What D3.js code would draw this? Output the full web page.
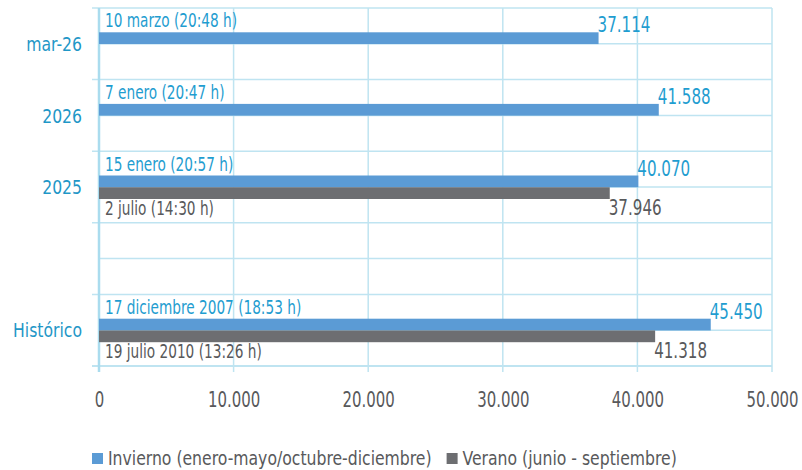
<!DOCTYPE html>
<html>
<head>
  <meta charset="utf-8">
  <title>Demanda máxima</title>
  <script src="https://cdn.jsdelivr.net/npm/d3@7/dist/d3.min.js"></script>
  <style>
    body { margin: 0; background: #fff; }
    svg text { font-family: 'Liberation Sans Narrow', 'DejaVu Sans Condensed', 'Roboto Condensed', sans-serif; }
  </style>
</head>
<body>
<svg id="chart"></svg>
<script>
  // datos
  var categorias = ["mar-26", "2026", "2025", "", "Histórico"];
  var series = ["Invierno (enero-mayo/octubre-diciembre)", "Verano (junio - septiembre)"];
  var invierno = [37114, 41588, 40070, null, 45450];
  var verano = [null, null, 37946, null, 41318];
  var fechasInvierno = ["10 marzo (20:48 h)", "7 enero (20:47 h)", "15 enero (20:57 h)", null, "17 diciembre 2007 (18:53 h)"];
  var fechasVerano = [null, null, "2 julio (14:30 h)", null, "19 julio 2010 (13:26 h)"];
  var ticksX = [0, 10000, 20000, 30000, 40000, 50000];

  var width = 802, height = 470;
  var margin = {top: 8, right: 30, bottom: 104, left: 99};
  var colores = ["#5b9bd5", "#6d6e71"];
  var colorTexto = ["#1f9dd0", "#58595b"];
  var grid = "#bfe4f1";

  var es = d3.formatLocale({decimal: ",", thousands: ".", grouping: [3], currency: ["", " €"]});
  var fmt = es.format(",d");

  // estrecha el texto para imitar la fuente condensada del original
  function condensar(sel, k) {
    sel.each(function() {
      var l = this.getComputedTextLength();
      d3.select(this).attr("textLength", l * k).attr("lengthAdjust", "spacingAndGlyphs");
    });
  }

  var svg = d3.select("#chart").attr("width", width).attr("height", height);
  var g = svg.append("g").attr("transform", "translate(" + margin.left + "," + margin.top + ")");
  var w = width - margin.left - margin.right,
      h = height - margin.top - margin.bottom;

  var x = d3.scaleLinear().domain([0, 50000]).range([0, w]);
  var y = d3.scaleBand().domain(categorias).range([0, h]);
  var sub = d3.scaleBand().domain(series)
      .range([y.bandwidth() / 2 - 11.5, y.bandwidth() / 2 + 12]);

  // rejilla vertical
  g.selectAll(".vgrid").data(ticksX).enter().append("line")
    .attr("x1", function(d) { return x(d); }).attr("x2", function(d) { return x(d); })
    .attr("y1", 0).attr("y2", h + 6)
    .attr("stroke", grid).attr("stroke-width", 1.5);

  // rejilla horizontal: límites de banda y mitades
  categorias.forEach(function(c) {
    g.append("line").attr("x1", -7).attr("x2", w)
      .attr("y1", y(c)).attr("y2", y(c))
      .attr("stroke", grid).attr("stroke-width", 1.5);
    g.append("line").attr("x1", 0).attr("x2", w)
      .attr("y1", y(c) + y.bandwidth() / 2).attr("y2", y(c) + y.bandwidth() / 2)
      .attr("stroke", grid).attr("stroke-width", 1.5);
  });
  g.append("line").attr("x1", -7).attr("x2", w).attr("y1", h).attr("y2", h)
    .attr("stroke", grid).attr("stroke-width", 2);
  g.append("line").attr("x1", 0).attr("x2", 0).attr("y1", 0).attr("y2", h + 6)
    .attr("stroke", "#aadcee").attr("stroke-width", 2.5);

  // eje x
  var xAxis = g.append("g").attr("transform", "translate(0," + h + ")")
    .call(d3.axisBottom(x).tickValues(ticksX).tickFormat(fmt).tickSize(0).tickPadding(26));
  xAxis.select(".domain").remove();
  xAxis.selectAll("text").attr("fill", "#58595b").style("font-size", "21px")
    .call(condensar, 0.79);

  // etiquetas de categoría
  g.selectAll(".cat").data(categorias).enter().append("text")
    .attr("x", -17).attr("y", function(d) { return y(d) + y.bandwidth() / 2; })
    .attr("dy", "0.36em").attr("text-anchor", "end")
    .attr("fill", "#1f97c7").style("font-size", "20px")
    .text(function(d) { return d; })
    .call(condensar, 0.87);

  // barras
  var valores = [invierno, verano];
  var fechas = [fechasInvierno, fechasVerano];
  series.forEach(function(s, si) {
    var filas = categorias.map(function(c, i) {
      return {cat: c, v: valores[si][i], f: fechas[si][i]};
    }).filter(function(d) { return d.v != null; });

    g.selectAll(".bar" + si).data(filas).enter().append("rect")
      .attr("x", 0)
      .attr("y", function(d) { return y(d.cat) + sub(s); })
      .attr("width", function(d) { return x(d.v); })
      .attr("height", sub.bandwidth())
      .attr("fill", colores[si]);

    // valor al final de la barra
    g.selectAll(".val" + si).data(filas).enter().append("text")
      .attr("x", function(d) { return x(d.v) - 1; })
      .attr("y", function(d) {
        return si === 0 ? y(d.cat) + sub(s) : y(d.cat) + sub(s) + sub.bandwidth() + 15.5;
      })
      .attr("fill", colorTexto[si]).style("font-size", "21px")
      .text(function(d) { return fmt(d.v); })
      .call(condensar, 0.8);

    // fecha
    g.selectAll(".fecha" + si).data(filas).enter().append("text")
      .attr("x", 6)
      .attr("y", function(d) {
        return si === 0 ? y(d.cat) + sub(s) - 5 : y(d.cat) + sub(s) + sub.bandwidth() + 16;
      })
      .attr("fill", colorTexto[si]).style("font-size", "19px")
      .text(function(d) { return d.f; })
      .call(condensar, 0.8);
  });

  // leyenda
  var ley = svg.append("g").attr("transform", "translate(92,465)");
  var lx = 0;
  series.forEach(function(s, i) {
    ley.append("rect").attr("x", lx).attr("y", -12).attr("width", 11).attr("height", 11)
      .attr("fill", colores[i]);
    var t = ley.append("text").attr("x", lx + 16).attr("y", 0)
      .attr("fill", "#58595b").style("font-size", "20px").text(s);
    var l = t.node().getComputedTextLength() * 0.87;
    t.attr("textLength", l).attr("lengthAdjust", "spacingAndGlyphs");
    lx += 16 + l + 15;
  });
</script>
</body>
</html>
